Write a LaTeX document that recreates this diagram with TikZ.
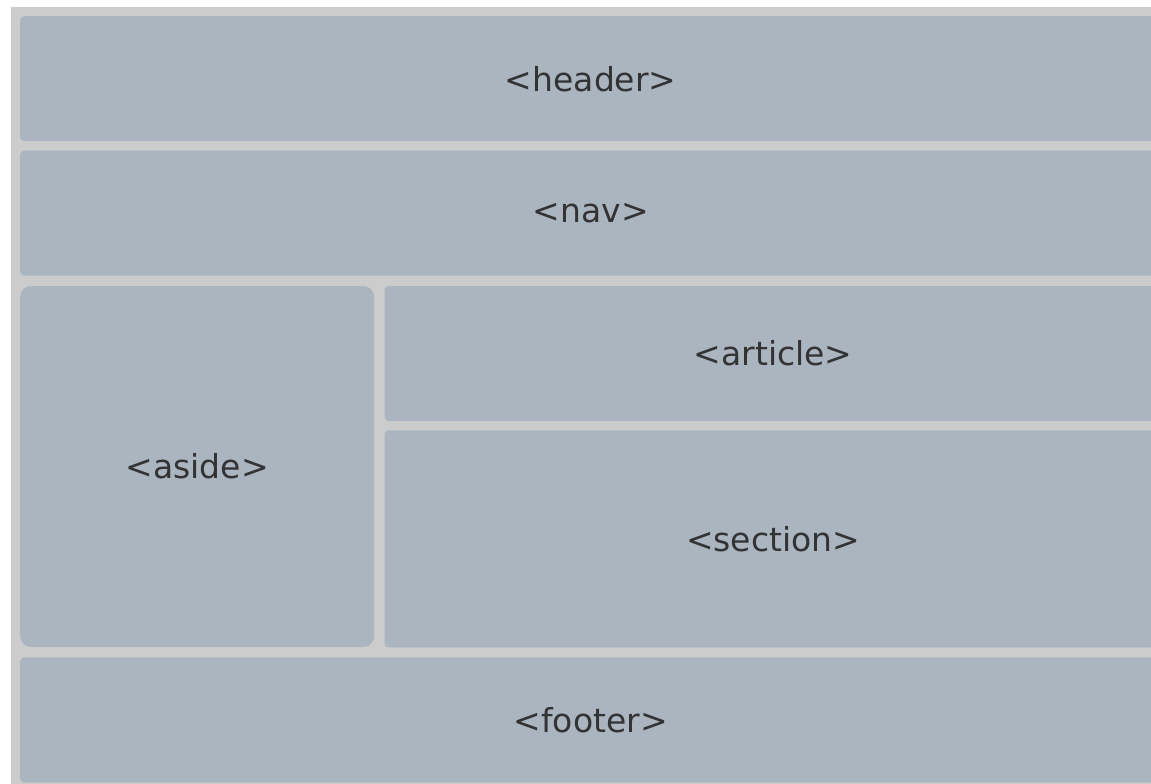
\documentclass[tikz,border=0pt]{standalone}
\usepackage{fontspec}
\setmainfont{DejaVu Sans}
\usetikzlibrary{positioning}
\definecolor{boxgray}{RGB}{171,181,191}
\definecolor{backgray}{RGB}{204,204,204}
\definecolor{textgray}{RGB}{51,51,51}
\begin{document}
\begin{tikzpicture}[x=1pt,y=-1pt,
    block/.style={fill=boxgray,text=textgray,rounded corners=4pt,inner sep=0pt,
      minimum width=1141pt,minimum height=125pt,
      font=\fontsize{33}{40}\selectfont},
    side/.style={block,rounded corners=11pt,minimum width=354pt,minimum height=361pt},
    main/.style={block,minimum width=777pt}]
   \useasboundingbox (0,0) rectangle (1151,784);
   \fill[backgray] (11,7) rectangle (1151,784);
   \node[block,anchor=north west]   (header)  at (20,16)                              {<header>};
   \node[block]                     (nav)     [below=9pt of header]                   {<nav>};
   \node[side,anchor=north west]    (aside)   [below=10pt of nav.south west,anchor=north west] {<aside>};
   \node[main,minimum height=135pt] (article) [right=10pt of aside.north east,anchor=north west] {<article>};
   \node[main,minimum height=217pt] (section) [below=9pt of article]                 {<section>};
   \node[block]                     (footer)  [below=10pt of aside.south west,anchor=north west] {<footer>};
\end{tikzpicture}
\end{document}
